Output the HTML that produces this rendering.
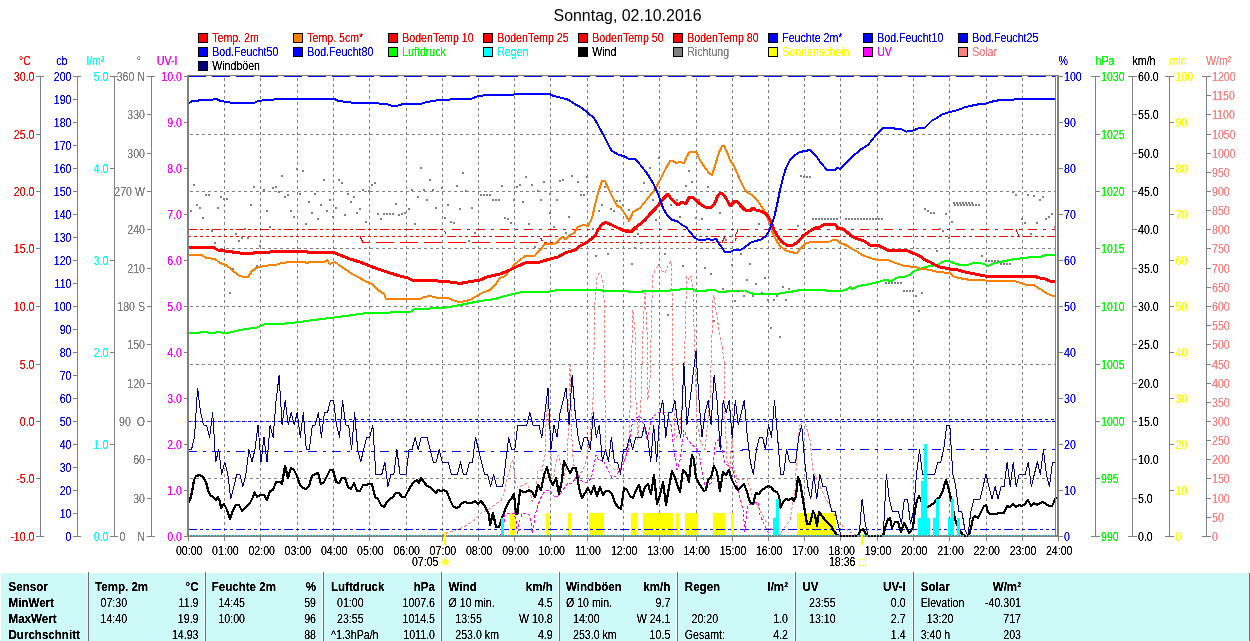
<!DOCTYPE html>
<html lang="de"><head><meta charset="utf-8"><title>Sonntag, 02.10.2016</title>
<style>
html,body{margin:0;padding:0;background:#fff;overflow:hidden}
svg{display:block}
text{font-family:"Liberation Sans",sans-serif;font-size:12px;filter:url(#crisp)}
</style></head><body>
<svg width="1250" height="641" viewBox="0 0 1250 641">
<defs><filter id="crisp" x="-5%" y="-20%" width="110%" height="140%" color-interpolation-filters="sRGB"><feComponentTransfer><feFuncA type="linear" slope="2.2" intercept="-0.35"/></feComponentTransfer></filter></defs>
<rect width="1250" height="641" fill="#fff"/>
<g id="grid" stroke="#808080" stroke-width="1" stroke-dasharray="3 3" shape-rendering="crispEdges" fill="none">
<line x1="224.5" y1="78" x2="224.5" y2="535"/>
<line x1="260.5" y1="78" x2="260.5" y2="535"/>
<line x1="297.5" y1="78" x2="297.5" y2="535"/>
<line x1="333.5" y1="78" x2="333.5" y2="535"/>
<line x1="369.5" y1="78" x2="369.5" y2="535"/>
<line x1="406.5" y1="78" x2="406.5" y2="535"/>
<line x1="442.5" y1="78" x2="442.5" y2="535"/>
<line x1="478.5" y1="78" x2="478.5" y2="535"/>
<line x1="514.5" y1="78" x2="514.5" y2="535"/>
<line x1="550.5" y1="78" x2="550.5" y2="535"/>
<line x1="587.5" y1="78" x2="587.5" y2="535"/>
<line x1="623.5" y1="78" x2="623.5" y2="535"/>
<line x1="659.5" y1="78" x2="659.5" y2="535"/>
<line x1="696.5" y1="78" x2="696.5" y2="535"/>
<line x1="732.5" y1="78" x2="732.5" y2="535"/>
<line x1="768.5" y1="78" x2="768.5" y2="535"/>
<line x1="804.5" y1="78" x2="804.5" y2="535"/>
<line x1="840.5" y1="78" x2="840.5" y2="535"/>
<line x1="877.5" y1="78" x2="877.5" y2="535"/>
<line x1="913.5" y1="78" x2="913.5" y2="535"/>
<line x1="949.5" y1="78" x2="949.5" y2="535"/>
<line x1="986.5" y1="78" x2="986.5" y2="535"/>
<line x1="1022.5" y1="78" x2="1022.5" y2="535"/>
<line x1="190" y1="134.5" x2="1055" y2="134.5"/>
<line x1="190" y1="191.5" x2="1055" y2="191.5"/>
<line x1="190" y1="248.5" x2="1055" y2="248.5"/>
<line x1="190" y1="306.5" x2="1055" y2="306.5"/>
<line x1="190" y1="364.5" x2="1055" y2="364.5"/>
<line x1="190" y1="421.5" x2="1055" y2="421.5"/>
<line x1="190" y1="478.5" x2="1055" y2="478.5"/>
</g>
<g id="sun" fill="#ffff00" shape-rendering="crispEdges">
<rect x="510" y="513" width="6" height="23"/>
<rect x="546" y="513" width="3" height="23"/>
<rect x="568" y="513" width="3" height="23"/>
<rect x="589" y="513" width="15" height="23"/>
<rect x="631" y="513" width="6" height="23"/>
<rect x="643" y="513" width="30" height="23"/>
<rect x="676" y="513" width="3" height="23"/>
<rect x="685" y="513" width="13" height="23"/>
<rect x="713" y="513" width="12" height="23"/>
<rect x="731" y="513" width="3" height="23"/>
<rect x="797" y="513" width="39" height="23"/>
</g>
<g id="curves" shape-rendering="crispEdges" stroke-linejoin="round">
<polyline points="188.0,229.5 444.0,229.5 447.0,236.5 1056.0,236.5" fill="none" stroke="#ff0000" stroke-width="1" stroke-dasharray="9 3 3 3 3 3" stroke-dashoffset="0"/>
<polyline points="188.0,236.5 446.0,236.5" fill="none" stroke="#ff0000" stroke-width="1" stroke-dasharray="3 3" stroke-dashoffset="0"/>
<polyline points="446.0,229.5 1056.0,229.5" fill="none" stroke="#ff0000" stroke-width="1" stroke-dasharray="9 6 3 6" stroke-dashoffset="18"/>
<polyline points="360.0,236.5 363.0,242.5 541.0,242.5" fill="none" stroke="#ff0000" stroke-width="1" stroke-dasharray="18 6" stroke-dashoffset="4"/>
<polyline points="540.0,236.5 543.0,242.5 734.0,242.5 737.0,236.5" fill="none" stroke="#ff0000" stroke-width="1" stroke-dasharray="3 3" stroke-dashoffset="4"/>
<polyline points="722.0,242.5 725.0,236.5" fill="none" stroke="#ff0000" stroke-width="1" />
<polyline points="735.0,236.5 738.0,229.5" fill="none" stroke="#ff0000" stroke-width="1" />
<polyline points="1016.0,229.5 1019.0,236.5" fill="none" stroke="#ff0000" stroke-width="1" />
<polyline points="188.0,76.5 1056.0,76.5" fill="none" stroke="#0000ff" stroke-width="1" stroke-dasharray="18 6" stroke-dashoffset="0"/>
<polyline points="188.0,421.5 1056.0,421.5" fill="none" stroke="#0000ff" stroke-width="1" stroke-dasharray="3 3" stroke-dashoffset="0"/>
<polyline points="319.0,419.5 1056.0,419.5" fill="none" stroke="#0000ff" stroke-width="1" stroke-dasharray="3 3" stroke-dashoffset="0"/>
<polyline points="188.0,451.5 738.0,451.5 744.0,449.5 1056.0,449.5" fill="none" stroke="#0000ff" stroke-width="1" stroke-dasharray="9 6 3 6" stroke-dashoffset="0"/>
<polyline points="188.0,529.5 1056.0,529.5" fill="none" stroke="#0000ff" stroke-width="1" stroke-dasharray="9 3 3 3 3 3" stroke-dashoffset="0"/>
<polyline points="441.0,536.0 444.5,533.6 455.0,530.6 465.5,526.0 474.5,520.0 480.5,513.4 489.4,509.0 495.4,504.4 501.4,500.0 504.4,492.4 507.4,477.5 510.4,467.0 512.7,459.5 514.0,470.0 515.7,483.4 518.0,488.0 522.4,485.0 527.0,483.4 530.0,491.0 532.0,501.4 533.6,500.0 536.0,489.4 538.0,471.5 542.0,470.0 545.0,455.0 546.0,425.0 547.5,405.0 549.0,425.0 551.0,455.0 551.6,476.0 554.0,476.0 556.0,462.5 558.4,455.0 560.0,462.5 561.4,470.0 563.6,479.0 567.4,462.5 568.0,440.0 569.0,400.0 570.0,365.0 571.0,400.0 572.0,440.0 572.6,455.0 574.0,465.5 578.0,474.5 582.4,471.5 585.4,462.5 588.4,449.0 590.0,440.0 593.0,400.0 595.0,300.0 597.0,278.0 599.0,273.0 601.0,275.0 603.0,282.0 604.0,300.0 605.0,400.0 606.0,450.0 610.0,465.0 615.0,470.0 620.0,468.0 625.0,460.0 629.0,440.0 631.0,380.0 633.0,310.0 635.0,330.0 636.0,400.0 638.0,440.0 641.0,400.0 643.0,330.0 645.0,293.0 647.0,330.0 648.0,400.0 650.0,380.0 652.0,300.0 653.0,275.0 656.0,268.0 659.0,265.0 662.0,271.0 665.0,273.0 668.0,266.0 671.0,261.0 672.0,290.0 673.0,380.0 675.0,440.0 680.0,430.0 684.0,380.0 686.0,300.0 687.0,276.0 689.0,280.0 691.0,276.0 693.0,290.0 695.0,360.0 697.0,420.0 700.0,440.0 705.0,450.0 710.0,400.0 713.0,300.0 714.0,295.0 716.0,310.0 719.0,330.0 722.0,345.0 724.0,360.0 725.0,420.0 727.0,460.0 730.0,470.0 732.0,432.0 734.0,470.0 738.0,480.0 747.0,478.5 752.0,495.0 757.0,505.0 765.0,520.0 772.0,530.0 780.0,535.0 783.0,529.5 790.0,520.0 795.0,490.0 797.0,450.0 800.0,425.0 804.6,421.0 810.0,440.0 813.0,470.0 817.0,480.0 825.0,497.0 832.0,510.0 838.0,522.0 845.0,528.0 850.0,532.0 858.0,536.0" fill="none" stroke="#ff8080" stroke-width="1" stroke-dasharray="3 2"/>
<polyline points="500.0,536.0 503.0,530.0 505.0,513.5 514.0,513.5 516.0,520.0 517.5,534.0 519.4,521.6 521.6,515.0 524.0,513.4 527.0,513.4 530.0,515.7 531.4,522.4 532.0,533.0 533.6,528.4 535.0,515.0 537.4,507.4 540.4,498.4 545.0,491.0 549.4,490.0 552.4,494.0 555.4,497.7 560.0,494.7 564.4,488.0 568.0,482.7 572.0,484.0 575.0,479.0 578.0,474.5 581.0,480.4 584.0,482.7 588.4,482.0 591.4,477.5 593.6,467.0 596.0,455.0 599.0,461.0 603.0,460.0 608.0,470.0 612.0,478.0 616.0,476.0 620.0,470.0 624.0,462.0 628.0,450.0 632.0,425.0 636.0,418.0 640.0,416.0 644.0,425.0 647.0,440.0 650.0,425.0 653.0,416.0 658.0,413.0 664.0,412.0 668.0,416.0 671.0,425.0 674.0,450.0 677.0,470.0 680.0,460.0 684.0,430.0 688.0,440.0 692.0,444.6 698.5,451.0 705.0,487.0 711.0,483.0 715.5,442.5 719.7,439.0 725.0,463.7 732.4,468.0 738.8,493.4 743.0,510.0 745.0,531.6 747.3,506.0 751.5,504.0 758.0,502.0 760.0,514.6 764.3,525.0 768.5,532.6 772.0,536.0" fill="none" stroke="#ff00ff" stroke-width="1" stroke-dasharray="3 2"/>
<polyline points="188.0,333.5 200.0,332.5 206.0,332.0 211.0,333.5 219.0,332.0 225.0,333.5 232.0,332.0 240.0,330.0 250.0,328.5 257.0,327.5 262.0,325.0 268.0,323.5 275.0,324.0 285.0,323.5 300.0,322.0 310.0,320.5 330.0,318.0 345.0,316.0 360.0,314.0 370.0,312.5 380.0,313.0 390.0,312.5 400.0,312.0 410.0,312.0 415.0,309.0 430.0,308.5 438.0,308.0 445.0,307.5 455.0,306.0 470.0,303.0 480.0,301.0 495.0,299.0 505.0,296.0 513.0,294.0 520.0,292.5 535.0,292.0 550.0,291.5 558.0,290.0 600.0,290.0 605.0,291.0 620.0,291.0 625.0,290.5 630.0,292.0 640.0,292.0 645.0,291.0 660.0,291.5 670.0,290.5 680.0,289.5 683.0,288.5 692.0,288.5 695.0,290.5 705.0,291.0 708.0,290.0 715.0,290.0 718.0,291.5 725.0,292.0 728.0,291.0 745.0,290.5 750.0,293.0 755.0,294.0 768.0,293.5 772.0,294.0 780.0,293.5 785.0,292.5 790.0,292.0 800.0,290.0 810.0,289.5 825.0,290.0 828.0,291.0 840.0,291.0 846.0,290.0 850.0,287.0 852.0,289.0 855.0,288.0 858.0,286.0 865.0,285.0 870.0,284.0 880.0,281.5 885.0,280.0 892.0,281.0 896.0,278.0 900.0,277.0 905.0,276.5 910.0,275.0 914.0,271.0 918.0,270.0 922.0,268.0 930.0,266.0 938.0,265.0 942.0,262.0 946.0,261.0 950.0,261.5 955.0,263.5 960.0,265.0 968.0,265.0 972.0,263.5 980.0,263.0 985.0,264.5 988.0,266.0 992.0,264.0 995.0,263.0 1005.0,261.0 1015.0,259.0 1025.0,258.0 1035.0,256.5 1040.0,257.0 1046.0,255.0 1056.0,255.0" fill="none" stroke="#00ff00" stroke-width="2" />
<polyline points="188.0,255.0 202.0,255.0 206.0,258.0 215.0,259.0 220.0,263.0 226.0,265.0 232.0,270.0 238.0,275.0 243.0,277.0 248.0,277.0 252.0,271.0 258.0,267.0 266.0,266.0 270.0,265.0 275.0,265.0 282.0,263.0 290.0,262.0 305.0,262.0 306.0,263.5 310.0,262.0 325.0,261.5 327.0,260.0 330.0,264.0 335.0,262.0 340.0,266.0 345.0,269.0 352.0,274.0 358.0,277.0 365.0,281.0 372.0,284.0 378.0,290.0 384.0,294.0 386.0,299.0 420.0,299.0 424.0,297.0 430.0,296.0 438.0,298.0 448.0,298.0 455.0,301.0 460.0,302.5 465.0,301.0 470.0,300.0 475.0,297.0 482.0,293.0 490.0,290.0 495.0,285.0 500.0,278.0 505.0,276.0 510.0,270.0 515.0,264.0 520.0,260.0 525.0,256.0 535.0,255.5 540.0,250.0 545.0,244.0 555.0,243.5 558.0,241.0 562.0,237.0 566.0,239.5 570.0,235.0 574.0,233.0 578.0,227.0 580.0,226.0 584.0,225.0 588.0,226.0 592.0,218.0 595.0,205.0 598.0,193.0 602.0,181.0 605.0,181.0 610.0,192.0 617.0,206.0 620.0,207.0 625.0,214.0 629.0,221.0 633.0,212.0 640.0,208.0 648.0,198.0 655.0,189.0 660.0,180.0 665.0,170.0 670.0,161.0 673.0,161.0 676.0,163.0 680.0,162.0 684.0,163.0 687.0,156.0 690.0,151.5 696.0,151.5 700.0,160.0 705.0,168.0 710.0,174.0 712.0,175.0 715.0,166.0 718.0,155.0 722.0,146.0 724.0,145.5 727.0,152.0 730.0,160.0 734.0,166.0 740.0,180.0 745.0,190.0 748.0,193.0 752.0,195.0 758.0,201.0 765.0,212.0 770.0,224.0 773.0,234.0 776.0,240.0 780.0,246.0 785.0,250.0 790.0,252.0 797.0,253.0 800.0,249.0 805.0,244.0 810.0,242.0 830.0,241.5 833.0,240.0 837.0,240.0 840.0,243.0 846.0,245.0 852.0,249.0 858.0,252.0 862.0,255.0 870.0,258.0 876.0,259.5 888.0,260.0 893.0,262.0 898.0,264.0 905.0,266.0 915.0,267.0 920.0,268.5 930.0,270.0 938.0,272.0 950.0,273.0 953.0,276.0 958.0,278.0 965.0,279.0 970.0,280.0 985.0,280.5 1015.0,281.0 1020.0,283.0 1025.0,284.5 1034.0,285.0 1038.0,288.0 1042.0,290.0 1046.0,293.0 1050.0,295.0 1056.0,296.5" fill="none" stroke="#ff8000" stroke-width="2" />
<polyline points="188.0,247.4 213.0,247.4 218.0,250.0 225.0,251.0 240.0,253.0 246.0,254.0 252.0,253.5 256.0,252.0 270.0,252.0 285.0,251.5 305.0,251.5 310.0,252.5 335.0,253.0 340.0,255.0 350.0,259.0 360.0,262.0 370.0,266.0 378.0,269.0 390.0,273.0 400.0,276.0 408.0,278.0 412.0,280.0 430.0,280.0 438.0,281.0 450.0,282.0 460.0,283.5 468.0,282.0 480.0,280.0 487.0,277.0 500.0,274.0 510.0,270.0 518.0,266.0 525.0,263.0 540.0,262.0 550.0,259.0 558.0,257.0 565.0,253.0 575.0,250.0 580.0,246.0 586.0,243.0 590.0,240.0 595.0,236.0 598.0,230.0 602.0,224.0 606.0,222.5 612.0,225.0 618.0,228.0 625.0,231.0 631.0,232.0 635.0,228.0 639.0,225.0 645.0,220.0 650.0,214.0 655.0,209.0 660.0,203.0 664.0,198.0 668.0,194.0 672.0,200.0 676.0,203.0 678.0,205.0 682.0,202.0 686.0,204.0 689.0,197.0 692.0,197.0 696.0,200.0 700.0,204.0 705.0,207.0 712.0,207.0 715.0,203.0 718.0,195.0 721.0,193.0 724.0,195.0 727.0,200.0 730.0,206.0 735.0,201.0 737.0,201.0 740.0,205.0 745.0,210.0 750.0,211.0 753.0,208.0 756.0,210.0 760.0,211.0 765.0,213.0 768.0,216.0 771.0,222.0 774.0,230.0 778.0,237.0 782.0,242.0 788.0,246.0 793.0,245.0 798.0,242.0 803.0,236.0 810.0,231.0 815.0,228.0 820.0,227.0 825.0,224.0 835.0,224.5 838.0,228.0 843.0,229.0 848.0,233.0 853.0,237.0 858.0,239.0 864.0,241.0 870.0,245.0 878.0,245.5 882.0,247.0 887.0,250.0 900.0,250.5 908.0,251.0 915.0,254.0 920.0,256.0 925.0,260.0 930.0,262.0 935.0,265.0 940.0,267.0 950.0,269.0 958.0,270.0 965.0,272.0 975.0,274.0 985.0,276.0 1000.0,276.5 1035.0,276.5 1040.0,278.0 1045.0,279.0 1050.0,281.0 1056.0,282.0" fill="none" stroke="#ff0000" stroke-width="3" />
<polyline points="188.0,104.0 192.0,101.0 200.0,100.4 212.0,99.6 217.0,99.0 220.0,101.0 228.0,102.0 232.0,103.0 254.0,103.0 258.0,101.0 266.0,100.0 276.0,99.4 280.0,99.0 335.0,99.0 338.0,101.0 344.0,101.6 352.0,102.6 378.0,103.0 380.0,104.0 388.0,104.4 392.0,106.0 396.0,106.0 402.0,104.4 406.0,103.6 422.0,103.6 426.0,102.0 434.0,101.0 438.0,100.0 448.0,99.6 472.0,98.6 478.0,96.0 488.0,95.0 514.0,94.6 516.0,94.0 550.0,94.0 552.0,95.4 558.0,97.0 568.0,99.6 574.0,103.6 582.0,108.0 588.0,113.0 594.0,118.0 598.0,125.0 604.0,136.0 610.0,148.0 612.0,151.0 618.0,154.4 626.0,157.0 628.0,158.6 635.0,159.0 638.0,162.0 646.0,172.0 650.0,178.0 654.0,185.0 658.0,194.0 660.0,199.0 663.0,208.0 667.0,215.0 672.0,220.0 677.0,221.0 682.0,225.0 686.0,227.0 690.0,232.0 695.0,238.0 700.0,240.5 704.0,240.0 708.0,239.0 712.0,240.0 716.0,239.0 720.0,245.0 725.0,252.0 730.0,252.0 734.0,250.0 740.0,250.0 744.0,248.0 750.0,243.0 755.0,241.0 760.0,240.0 765.0,237.0 768.0,233.0 771.0,226.0 774.0,218.0 777.0,205.0 780.0,190.0 783.0,178.0 786.0,168.0 790.0,160.0 795.0,155.0 800.0,152.0 805.0,151.0 810.0,150.0 816.0,156.0 821.0,163.0 827.0,170.0 835.0,170.4 837.0,168.0 840.4,169.0 852.0,157.0 860.0,150.0 868.0,145.0 876.0,135.0 883.0,127.6 892.0,127.6 896.0,129.0 902.0,129.4 906.0,131.6 912.0,131.0 918.0,128.4 925.0,127.6 932.0,120.5 936.0,118.4 943.0,114.0 950.0,112.0 958.0,110.0 964.0,107.6 970.0,106.0 978.0,104.4 986.0,103.6 992.0,101.6 1000.0,100.0 1014.0,99.6 1016.0,99.0 1056.0,99.0" fill="none" stroke="#0000ff" stroke-width="2" />
</g>
<g id="dir" fill="#808080" shape-rendering="crispEdges">
<rect x="193" y="184" width="2" height="2"/>
<rect x="205" y="194" width="2" height="2"/>
<rect x="208" y="194" width="2" height="2"/>
<rect x="220" y="196" width="2" height="2"/>
<rect x="223" y="198" width="2" height="2"/>
<rect x="226" y="198" width="2" height="2"/>
<rect x="253" y="186" width="2" height="2"/>
<rect x="263" y="189" width="2" height="2"/>
<rect x="272" y="187" width="2" height="2"/>
<rect x="275" y="186" width="2" height="2"/>
<rect x="278" y="191" width="2" height="2"/>
<rect x="281" y="175" width="2" height="2"/>
<rect x="284" y="196" width="2" height="2"/>
<rect x="287" y="194" width="2" height="2"/>
<rect x="296" y="168" width="2" height="2"/>
<rect x="299" y="193" width="2" height="2"/>
<rect x="302" y="170" width="2" height="2"/>
<rect x="308" y="201" width="2" height="2"/>
<rect x="314" y="193" width="2" height="2"/>
<rect x="323" y="179" width="2" height="2"/>
<rect x="329" y="199" width="2" height="2"/>
<rect x="338" y="179" width="2" height="2"/>
<rect x="341" y="182" width="2" height="2"/>
<rect x="347" y="193" width="2" height="2"/>
<rect x="350" y="201" width="2" height="2"/>
<rect x="353" y="196" width="2" height="2"/>
<rect x="362" y="189" width="2" height="2"/>
<rect x="368" y="190" width="2" height="2"/>
<rect x="371" y="184" width="2" height="2"/>
<rect x="374" y="182" width="2" height="2"/>
<rect x="395" y="203" width="2" height="2"/>
<rect x="411" y="189" width="2" height="2"/>
<rect x="417" y="196" width="2" height="2"/>
<rect x="420" y="167" width="2" height="2"/>
<rect x="423" y="189" width="2" height="2"/>
<rect x="426" y="199" width="2" height="2"/>
<rect x="429" y="179" width="2" height="2"/>
<rect x="432" y="189" width="2" height="2"/>
<rect x="190" y="210" width="2" height="2"/>
<rect x="196" y="204" width="2" height="2"/>
<rect x="199" y="207" width="2" height="2"/>
<rect x="202" y="217" width="2" height="2"/>
<rect x="211" y="230" width="2" height="2"/>
<rect x="214" y="242" width="2" height="2"/>
<rect x="217" y="207" width="2" height="2"/>
<rect x="229" y="292" width="2" height="2"/>
<rect x="232" y="268" width="2" height="2"/>
<rect x="235" y="233" width="2" height="2"/>
<rect x="238" y="240" width="2" height="2"/>
<rect x="241" y="237" width="2" height="2"/>
<rect x="244" y="228" width="2" height="2"/>
<rect x="247" y="237" width="2" height="2"/>
<rect x="250" y="204" width="2" height="2"/>
<rect x="256" y="265" width="2" height="2"/>
<rect x="259" y="245" width="2" height="2"/>
<rect x="266" y="210" width="2" height="2"/>
<rect x="269" y="226" width="2" height="2"/>
<rect x="290" y="210" width="2" height="2"/>
<rect x="293" y="216" width="2" height="2"/>
<rect x="305" y="223" width="2" height="2"/>
<rect x="311" y="212" width="2" height="2"/>
<rect x="317" y="218" width="2" height="2"/>
<rect x="320" y="204" width="2" height="2"/>
<rect x="326" y="210" width="2" height="2"/>
<rect x="332" y="216" width="2" height="2"/>
<rect x="335" y="207" width="2" height="2"/>
<rect x="344" y="214" width="2" height="2"/>
<rect x="356" y="212" width="2" height="2"/>
<rect x="359" y="208" width="2" height="2"/>
<rect x="365" y="221" width="2" height="2"/>
<rect x="377" y="213" width="2" height="2"/>
<rect x="380" y="218" width="2" height="2"/>
<rect x="383" y="213" width="2" height="2"/>
<rect x="386" y="213" width="2" height="2"/>
<rect x="389" y="213" width="2" height="2"/>
<rect x="392" y="213" width="2" height="2"/>
<rect x="398" y="214" width="2" height="2"/>
<rect x="401" y="213" width="2" height="2"/>
<rect x="404" y="212" width="2" height="2"/>
<rect x="408" y="208" width="2" height="2"/>
<rect x="414" y="223" width="2" height="2"/>
<rect x="435" y="207" width="2" height="2"/>
<rect x="441" y="187" width="2" height="2"/>
<rect x="456" y="185" width="2" height="2"/>
<rect x="462" y="172" width="2" height="2"/>
<rect x="465" y="190" width="2" height="2"/>
<rect x="480" y="194" width="2" height="2"/>
<rect x="483" y="194" width="2" height="2"/>
<rect x="486" y="194" width="2" height="2"/>
<rect x="489" y="194" width="2" height="2"/>
<rect x="492" y="199" width="2" height="2"/>
<rect x="495" y="199" width="2" height="2"/>
<rect x="498" y="199" width="2" height="2"/>
<rect x="501" y="185" width="2" height="2"/>
<rect x="513" y="199" width="2" height="2"/>
<rect x="516" y="186" width="2" height="2"/>
<rect x="519" y="184" width="2" height="2"/>
<rect x="522" y="201" width="2" height="2"/>
<rect x="525" y="176" width="2" height="2"/>
<rect x="531" y="184" width="2" height="2"/>
<rect x="537" y="190" width="2" height="2"/>
<rect x="540" y="199" width="2" height="2"/>
<rect x="543" y="181" width="2" height="2"/>
<rect x="549" y="193" width="2" height="2"/>
<rect x="556" y="199" width="2" height="2"/>
<rect x="559" y="180" width="2" height="2"/>
<rect x="562" y="179" width="2" height="2"/>
<rect x="571" y="175" width="2" height="2"/>
<rect x="577" y="181" width="2" height="2"/>
<rect x="580" y="194" width="2" height="2"/>
<rect x="583" y="194" width="2" height="2"/>
<rect x="586" y="176" width="2" height="2"/>
<rect x="604" y="186" width="2" height="2"/>
<rect x="616" y="200" width="2" height="2"/>
<rect x="619" y="200" width="2" height="2"/>
<rect x="643" y="182" width="2" height="2"/>
<rect x="649" y="167" width="2" height="2"/>
<rect x="652" y="199" width="2" height="2"/>
<rect x="658" y="157" width="2" height="2"/>
<rect x="685" y="185" width="2" height="2"/>
<rect x="676" y="199" width="2" height="2"/>
<rect x="447" y="204" width="2" height="2"/>
<rect x="459" y="208" width="2" height="2"/>
<rect x="471" y="207" width="2" height="2"/>
<rect x="444" y="217" width="2" height="2"/>
<rect x="450" y="221" width="2" height="2"/>
<rect x="453" y="222" width="2" height="2"/>
<rect x="474" y="232" width="2" height="2"/>
<rect x="468" y="240" width="2" height="2"/>
<rect x="504" y="217" width="2" height="2"/>
<rect x="507" y="218" width="2" height="2"/>
<rect x="510" y="222" width="2" height="2"/>
<rect x="528" y="223" width="2" height="2"/>
<rect x="534" y="246" width="2" height="2"/>
<rect x="549" y="212" width="2" height="2"/>
<rect x="553" y="226" width="2" height="2"/>
<rect x="565" y="232" width="2" height="2"/>
<rect x="568" y="216" width="2" height="2"/>
<rect x="569" y="234" width="2" height="2"/>
<rect x="592" y="228" width="2" height="2"/>
<rect x="598" y="210" width="2" height="2"/>
<rect x="601" y="204" width="2" height="2"/>
<rect x="595" y="255" width="2" height="2"/>
<rect x="607" y="253" width="2" height="2"/>
<rect x="610" y="208" width="2" height="2"/>
<rect x="613" y="210" width="2" height="2"/>
<rect x="622" y="204" width="2" height="2"/>
<rect x="628" y="209" width="2" height="2"/>
<rect x="631" y="263" width="2" height="2"/>
<rect x="634" y="247" width="2" height="2"/>
<rect x="637" y="233" width="2" height="2"/>
<rect x="640" y="242" width="2" height="2"/>
<rect x="655" y="219" width="2" height="2"/>
<rect x="664" y="253" width="2" height="2"/>
<rect x="667" y="314" width="2" height="2"/>
<rect x="670" y="204" width="2" height="2"/>
<rect x="679" y="216" width="2" height="2"/>
<rect x="682" y="265" width="2" height="2"/>
<rect x="688" y="170" width="2" height="2"/>
<rect x="691" y="181" width="2" height="2"/>
<rect x="695" y="217" width="2" height="2"/>
<rect x="698" y="199" width="2" height="2"/>
<rect x="701" y="218" width="2" height="2"/>
<rect x="707" y="186" width="2" height="2"/>
<rect x="719" y="212" width="2" height="2"/>
<rect x="725" y="239" width="2" height="2"/>
<rect x="740" y="253" width="2" height="2"/>
<rect x="758" y="223" width="2" height="2"/>
<rect x="797" y="225" width="2" height="2"/>
<rect x="800" y="175" width="2" height="2"/>
<rect x="803" y="176" width="2" height="2"/>
<rect x="806" y="176" width="2" height="2"/>
<rect x="809" y="176" width="2" height="2"/>
<rect x="658" y="264" width="2" height="2"/>
<rect x="704" y="267" width="2" height="2"/>
<rect x="710" y="273" width="2" height="2"/>
<rect x="713" y="320" width="2" height="2"/>
<rect x="722" y="288" width="2" height="2"/>
<rect x="731" y="264" width="2" height="2"/>
<rect x="734" y="300" width="2" height="2"/>
<rect x="737" y="290" width="2" height="2"/>
<rect x="743" y="295" width="2" height="2"/>
<rect x="746" y="279" width="2" height="2"/>
<rect x="749" y="263" width="2" height="2"/>
<rect x="752" y="295" width="2" height="2"/>
<rect x="755" y="283" width="2" height="2"/>
<rect x="761" y="292" width="2" height="2"/>
<rect x="764" y="277" width="2" height="2"/>
<rect x="767" y="299" width="2" height="2"/>
<rect x="770" y="327" width="2" height="2"/>
<rect x="773" y="299" width="2" height="2"/>
<rect x="776" y="295" width="2" height="2"/>
<rect x="779" y="336" width="2" height="2"/>
<rect x="782" y="286" width="2" height="2"/>
<rect x="785" y="299" width="2" height="2"/>
<rect x="788" y="288" width="2" height="2"/>
<rect x="924" y="208" width="2" height="2"/>
<rect x="927" y="210" width="2" height="2"/>
<rect x="930" y="212" width="2" height="2"/>
<rect x="933" y="212" width="2" height="2"/>
<rect x="939" y="228" width="2" height="2"/>
<rect x="942" y="230" width="2" height="2"/>
<rect x="945" y="213" width="2" height="2"/>
<rect x="948" y="237" width="2" height="2"/>
<rect x="951" y="221" width="2" height="2"/>
<rect x="936" y="250" width="2" height="2"/>
<rect x="981" y="255" width="2" height="2"/>
<rect x="915" y="295" width="2" height="2"/>
<rect x="921" y="292" width="2" height="2"/>
<rect x="918" y="310" width="2" height="2"/>
<rect x="1021" y="218" width="2" height="2"/>
<rect x="1024" y="222" width="2" height="2"/>
<rect x="1030" y="233" width="2" height="2"/>
<rect x="1036" y="222" width="2" height="2"/>
<rect x="1045" y="218" width="2" height="2"/>
<rect x="1048" y="216" width="2" height="2"/>
<rect x="1051" y="213" width="2" height="2"/>
<rect x="1054" y="226" width="2" height="2"/>
<rect x="1012" y="191" width="2" height="2"/>
<rect x="1015" y="194" width="2" height="2"/>
<rect x="1027" y="194" width="2" height="2"/>
<rect x="1033" y="195" width="2" height="2"/>
<rect x="1039" y="199" width="2" height="2"/>
<rect x="1042" y="196" width="2" height="2"/>
<rect x="812" y="218" width="2" height="2"/>
<rect x="815" y="218" width="2" height="2"/>
<rect x="818" y="218" width="2" height="2"/>
<rect x="821" y="218" width="2" height="2"/>
<rect x="824" y="218" width="2" height="2"/>
<rect x="827" y="218" width="2" height="2"/>
<rect x="830" y="218" width="2" height="2"/>
<rect x="833" y="218" width="2" height="2"/>
<rect x="836" y="218" width="2" height="2"/>
<rect x="845" y="218" width="2" height="2"/>
<rect x="848" y="218" width="2" height="2"/>
<rect x="851" y="218" width="2" height="2"/>
<rect x="854" y="218" width="2" height="2"/>
<rect x="857" y="218" width="2" height="2"/>
<rect x="860" y="218" width="2" height="2"/>
<rect x="863" y="218" width="2" height="2"/>
<rect x="866" y="218" width="2" height="2"/>
<rect x="869" y="218" width="2" height="2"/>
<rect x="872" y="218" width="2" height="2"/>
<rect x="875" y="218" width="2" height="2"/>
<rect x="878" y="218" width="2" height="2"/>
<rect x="881" y="218" width="2" height="2"/>
<rect x="954" y="204" width="2" height="2"/>
<rect x="957" y="204" width="2" height="2"/>
<rect x="960" y="204" width="2" height="2"/>
<rect x="963" y="204" width="2" height="2"/>
<rect x="966" y="204" width="2" height="2"/>
<rect x="969" y="204" width="2" height="2"/>
<rect x="972" y="204" width="2" height="2"/>
<rect x="975" y="204" width="2" height="2"/>
<rect x="978" y="204" width="2" height="2"/>
<rect x="953" y="202" width="2" height="2"/>
<rect x="956" y="202" width="2" height="2"/>
<rect x="959" y="202" width="2" height="2"/>
<rect x="962" y="202" width="2" height="2"/>
<rect x="965" y="202" width="2" height="2"/>
<rect x="968" y="202" width="2" height="2"/>
<rect x="971" y="202" width="2" height="2"/>
<rect x="985" y="260" width="2" height="2"/>
<rect x="988" y="260" width="2" height="2"/>
<rect x="991" y="260" width="2" height="2"/>
<rect x="994" y="260" width="2" height="2"/>
<rect x="997" y="260" width="2" height="2"/>
<rect x="1000" y="263" width="2" height="2"/>
<rect x="1003" y="263" width="2" height="2"/>
<rect x="1006" y="263" width="2" height="2"/>
<rect x="1009" y="263" width="2" height="2"/>
<rect x="885" y="282" width="2" height="2"/>
<rect x="888" y="282" width="2" height="2"/>
<rect x="891" y="282" width="2" height="2"/>
<rect x="894" y="282" width="2" height="2"/>
<rect x="897" y="282" width="2" height="2"/>
<rect x="900" y="282" width="2" height="2"/>
<rect x="903" y="290" width="2" height="2"/>
<rect x="906" y="290" width="2" height="2"/>
<rect x="909" y="290" width="2" height="2"/>
<rect x="912" y="290" width="2" height="2"/>
</g>
<g id="wind" shape-rendering="crispEdges" stroke-linejoin="round">
<polyline points="188.5,449.6 191.5,449.6 194.5,437.3 197.6,388.0 200.6,412.6 203.6,425.0 206.6,425.0 209.6,437.3 212.7,412.6 215.7,462.0 218.7,449.6 221.7,474.3 224.8,462.0 227.8,474.3 230.8,499.0 233.8,486.7 236.8,474.3 239.9,474.3 242.9,486.7 245.9,474.3 248.9,449.6 251.9,462.0 255.0,449.6 258.0,425.0 261.0,462.0 264.0,437.3 267.0,462.0 270.1,425.0 273.1,437.3 276.1,400.3 279.1,375.6 282.1,425.0 285.2,400.3 288.2,425.0 291.2,412.6 294.2,425.0 297.2,412.6 300.3,437.3 303.3,412.6 306.3,449.6 309.3,449.6 312.4,425.0 315.4,425.0 318.4,412.6 321.4,437.3 324.4,412.6 327.5,412.6 330.5,400.3 333.5,400.3 336.5,425.0 339.5,437.3 342.6,400.3 345.6,425.0 348.6,425.0 351.6,449.6 354.6,412.6 357.7,449.6 360.7,462.0 363.7,449.6 366.7,437.3 369.8,437.3 372.8,425.0 375.8,474.3 378.8,474.3 381.8,474.3 384.9,462.0 387.9,486.7 390.9,474.3 393.9,474.3 396.9,449.6 400.0,474.3 403.0,474.3 406.0,474.3 409.0,449.6 412.0,449.6 415.1,437.3 418.1,449.6 421.1,437.3 424.1,437.3 427.1,437.3 430.2,449.6 433.2,462.0 436.2,462.0 439.2,449.6 442.2,462.0 445.3,462.0 448.3,462.0 451.3,474.3 454.3,474.3 457.4,474.3 460.4,462.0 463.4,474.3 466.4,474.3 469.4,462.0 472.5,462.0 475.5,437.3 478.5,449.6 481.5,462.0 484.5,474.3 487.6,474.3 490.6,486.7 493.6,474.3 496.6,486.7 499.6,486.7 502.7,486.7 505.7,462.0 508.7,437.3 511.7,449.6 514.8,449.6 517.8,425.0 520.8,425.0 523.8,425.0 526.8,425.0 529.9,412.6 532.9,425.0 535.9,425.0 538.9,425.0 541.9,437.3 545.0,412.6 548.0,388.0 551.0,449.6 554.0,425.0 557.0,437.3 560.1,412.6 563.1,400.3 566.1,388.0 569.1,425.0 572.1,375.6 575.2,412.6 578.2,437.3 581.2,449.6 584.2,437.3 587.2,437.3 590.3,449.6 593.3,412.6 596.3,437.3 599.3,425.0 602.4,462.0 605.4,449.6 608.4,462.0 611.4,437.3 614.4,462.0 617.5,462.0 620.5,474.3 623.5,449.6 626.5,449.6 629.5,437.3 632.6,449.6 635.6,437.3 638.6,437.3 641.6,437.3 644.6,425.0 647.7,437.3 650.7,462.0 653.7,425.0 656.7,462.0 659.8,412.6 662.8,400.3 665.8,437.3 668.8,412.6 671.8,412.6 674.9,400.3 677.9,425.0 680.9,437.3 683.9,363.3 686.9,425.0 690.0,400.3 693.0,375.6 696.0,351.0 699.0,400.3 702.0,437.3 705.1,412.6 708.1,400.3 711.1,425.0 714.1,375.6 717.1,400.3 720.2,449.6 723.2,400.3 726.2,412.6 729.2,400.3 732.2,437.3 735.3,400.3 738.3,425.0 741.3,412.6 744.3,400.3 747.4,437.3 750.4,462.0 753.4,474.3 756.4,449.6 759.4,437.3 762.5,437.3 765.5,449.6 768.5,425.0 771.5,437.3 774.5,400.3 777.6,437.3 780.6,474.3 783.6,474.3 786.6,449.6 789.6,462.0 792.7,462.0 795.7,462.0 798.7,437.3 801.7,425.0 804.8,462.0 807.8,486.7 810.8,499.0 813.8,474.3 816.8,499.0 819.9,474.3 822.9,486.7 825.9,486.7 828.9,499.0 831.9,511.3 835.0,511.3 838.0,523.7 841.0,536.0 844.0,536.0 847.0,536.0 850.1,536.0 853.1,536.0 856.1,536.0 859.1,536.0 862.1,499.0 865.2,523.7 868.2,536.0 871.2,536.0 874.2,536.0 877.2,536.0 880.3,536.0 883.3,536.0 886.3,474.3 889.3,499.0 892.4,511.3 895.4,511.3 898.4,511.3 901.4,523.7 904.4,499.0 907.5,499.0 910.5,523.7 913.5,511.3 916.5,474.3 919.5,449.6 922.6,474.3 925.6,474.3 928.6,474.3 931.6,474.3 934.6,474.3 937.7,462.0 940.7,462.0 943.7,449.6 946.7,425.0 949.8,425.0 952.8,474.3 955.8,486.7 958.8,511.3 961.8,511.3 964.9,529.8 967.9,536.0 970.9,511.3 973.9,499.0 976.9,499.0 980.0,499.0 983.0,486.7 986.0,474.3 989.0,486.7 992.0,499.0 995.1,486.7 998.1,499.0 1001.1,486.7 1004.1,486.7 1007.1,462.0 1010.2,486.7 1013.2,462.0 1016.2,486.7 1019.2,474.3 1022.2,474.3 1025.3,474.3 1028.3,462.0 1031.3,486.7 1034.3,474.3 1037.4,462.0 1040.4,474.3 1043.4,449.6 1046.4,474.3 1049.4,486.7 1052.5,462.0 1055.5,462.0" fill="none" stroke="#000080" stroke-width="1" />
<polyline points="188.0,504.0 190.0,500.0 192.0,492.0 194.0,480.0 196.0,476.0 200.0,475.0 203.0,477.0 206.0,482.0 208.0,490.0 210.0,495.0 213.0,497.0 216.0,500.0 218.0,497.0 220.0,502.0 221.0,508.0 224.0,504.0 227.0,510.0 230.0,519.0 233.0,510.0 236.0,505.0 239.0,505.0 242.0,511.0 245.0,508.0 250.0,503.0 253.0,497.0 254.5,492.0 257.0,497.0 260.0,495.0 264.0,495.0 267.0,500.0 270.0,491.0 273.0,490.0 276.0,482.0 280.0,482.0 282.0,484.0 285.0,466.0 288.0,478.0 291.0,468.0 294.0,470.0 297.0,476.0 300.0,485.0 303.0,488.0 306.0,489.0 309.0,486.0 312.0,476.0 315.0,474.0 318.0,473.0 321.0,484.0 324.0,482.0 327.0,476.0 330.0,470.0 333.0,470.0 336.0,482.0 339.0,483.0 342.0,478.0 345.0,478.0 348.0,487.0 351.0,489.0 354.0,483.0 357.0,491.0 360.0,491.0 363.0,485.0 366.0,485.0 369.0,484.0 372.0,484.0 375.0,497.0 378.0,499.0 381.0,505.0 384.0,507.0 387.0,502.0 390.0,499.0 393.0,497.0 396.0,493.0 399.0,493.0 402.0,497.0 405.0,497.0 408.0,491.0 411.0,486.0 414.0,482.0 417.0,480.0 419.0,483.0 421.0,478.0 424.0,482.0 427.0,486.0 430.0,487.0 433.0,490.0 436.0,493.0 438.0,490.0 441.0,491.0 444.0,490.0 447.0,492.0 450.0,500.0 453.0,506.0 456.0,508.0 459.0,507.0 462.0,503.0 465.0,502.0 468.0,503.0 472.0,503.0 475.0,501.0 478.0,504.0 481.0,501.0 484.0,505.0 487.0,510.0 489.0,515.0 490.0,525.0 493.0,513.0 496.0,527.0 499.0,527.0 502.0,518.0 505.0,510.0 508.0,503.0 511.0,499.0 514.0,494.0 516.0,514.0 517.5,514.0 520.0,490.0 523.0,492.0 526.0,492.0 529.0,490.0 532.0,492.0 535.0,497.0 538.0,485.0 541.0,490.0 544.0,475.0 547.0,467.0 550.0,480.0 553.0,485.0 556.0,478.0 559.0,494.0 562.0,480.0 564.0,461.0 567.0,467.0 570.0,473.0 573.0,468.0 576.0,468.0 579.0,488.0 582.0,498.0 585.0,493.0 588.0,488.0 591.0,494.0 594.0,486.0 597.0,496.0 600.0,487.0 603.0,495.0 606.0,491.0 609.0,491.0 612.0,494.0 615.0,503.0 618.0,507.0 621.0,509.0 624.0,488.0 627.0,490.0 630.0,496.0 633.0,498.0 636.0,490.0 639.0,485.0 642.0,497.0 645.0,487.0 648.0,484.0 651.0,494.0 654.0,475.0 657.0,504.0 660.0,495.0 663.0,482.0 666.0,505.0 669.0,487.0 672.0,471.0 675.0,478.0 678.0,487.0 680.0,492.0 683.0,470.0 686.0,473.0 688.0,478.0 689.0,482.0 690.0,470.0 692.0,455.0 694.0,460.0 696.0,478.0 700.0,485.0 704.0,491.0 706.0,490.0 708.0,480.0 711.0,477.0 714.0,466.0 717.0,472.0 720.0,491.0 723.0,472.0 726.0,475.0 729.0,470.0 732.0,480.0 735.0,486.0 738.0,490.0 741.0,487.0 744.0,484.0 747.0,492.0 750.0,502.0 753.0,504.0 756.0,493.0 759.0,494.0 762.0,490.0 765.0,488.0 768.0,486.0 771.0,487.0 774.0,491.0 777.0,492.0 779.0,496.0 780.5,508.0 783.0,502.0 786.0,499.0 789.0,500.0 792.0,498.0 794.0,501.0 796.0,496.0 798.0,477.0 800.0,482.0 803.0,500.0 805.0,512.0 807.0,524.0 810.0,524.0 813.0,511.0 815.0,515.0 817.0,526.0 819.0,512.0 822.0,516.0 825.0,520.0 828.0,523.0 831.0,526.0 834.0,531.0 837.0,535.0 840.0,536.0 858.0,536.0 860.0,531.0 863.0,529.0 866.0,534.0 868.0,536.0 883.0,536.0 885.0,528.0 888.0,519.0 890.0,518.0 892.0,528.0 895.0,522.0 898.0,522.0 901.0,532.0 904.0,523.0 906.0,526.0 909.0,533.0 911.0,531.0 913.0,527.0 915.0,510.0 917.0,500.0 919.0,496.0 921.0,500.0 923.0,505.0 927.0,507.0 930.0,506.0 934.0,503.0 937.0,499.0 940.0,497.0 943.0,490.0 946.0,480.0 948.0,486.0 950.0,495.0 952.0,503.0 954.0,515.0 957.0,525.0 960.0,531.0 963.0,535.0 966.0,536.0 969.0,535.0 971.0,528.0 973.0,518.0 975.0,516.0 978.0,518.0 981.0,512.0 984.0,506.0 986.0,505.0 988.0,512.0 990.0,514.0 995.0,514.0 1000.0,513.0 1004.0,513.0 1007.0,506.0 1010.0,507.0 1013.0,504.0 1016.0,507.0 1019.0,505.0 1022.0,506.0 1025.0,504.0 1028.0,500.0 1031.0,506.0 1034.0,503.0 1037.0,505.0 1040.0,503.0 1043.0,502.0 1046.0,504.0 1049.0,506.0 1052.0,506.0 1054.0,502.0 1056.0,497.0" fill="none" stroke="#000000" stroke-width="2.2" />
</g>
<g id="rain" fill="#00ffff" shape-rendering="crispEdges">
<rect x="501" y="518" width="3" height="18"/>
<rect x="773" y="518" width="3" height="18"/>
<rect x="776" y="499" width="3" height="37"/>
<rect x="918" y="518" width="3" height="18"/>
<rect x="921" y="481" width="3" height="55"/>
<rect x="924" y="444" width="3" height="92"/>
<rect x="927" y="518" width="3" height="18"/>
<rect x="933" y="518" width="3" height="18"/>
<rect x="936" y="499" width="3" height="37"/>
<rect x="948" y="518" width="3" height="18"/>
<rect x="951" y="499" width="3" height="37"/>
<rect x="957" y="518" width="3" height="18"/>
</g>
<g id="axes" stroke="#808080" stroke-width="1" shape-rendering="crispEdges" fill="none">
<line x1="187" y1="75.5" x2="1059" y2="75.5"/>
<rect x="187" y="76" width="2" height="460" fill="#808080" stroke="none"/>
<line x1="1055.5" y1="76" x2="1055.5" y2="536"/>
<rect x="1057" y="76" width="2" height="461" fill="#808080" stroke="none"/>
<rect x="187" y="535" width="872" height="2" fill="#808080" stroke="none"/>
</g>
<line x1="189" y1="535.5" x2="1056" y2="535.5" stroke="#00ffff" stroke-width="1" stroke-dasharray="1 2" shape-rendering="crispEdges"/>
<g stroke="#000" stroke-width="2" shape-rendering="crispEdges">
<line x1="840" y1="535.5" x2="858" y2="535.5" stroke-dasharray="2 1"/>
<line x1="868" y1="535.5" x2="883" y2="535.5" stroke-dasharray="2 1"/>
<line x1="964" y1="535.5" x2="968" y2="535.5" stroke-dasharray="2 1"/>
</g>
<g id="ticks" stroke="#808080" stroke-width="1" shape-rendering="crispEdges" fill="none">
<line x1="188.5" y1="537" x2="188.5" y2="541"/>
<line x1="224.5" y1="537" x2="224.5" y2="541"/>
<line x1="260.5" y1="537" x2="260.5" y2="541"/>
<line x1="297.5" y1="537" x2="297.5" y2="541"/>
<line x1="333.5" y1="537" x2="333.5" y2="541"/>
<line x1="369.5" y1="537" x2="369.5" y2="541"/>
<line x1="406.5" y1="537" x2="406.5" y2="541"/>
<line x1="442.5" y1="537" x2="442.5" y2="541"/>
<line x1="478.5" y1="537" x2="478.5" y2="541"/>
<line x1="514.5" y1="537" x2="514.5" y2="541"/>
<line x1="550.5" y1="537" x2="550.5" y2="541"/>
<line x1="587.5" y1="537" x2="587.5" y2="541"/>
<line x1="623.5" y1="537" x2="623.5" y2="541"/>
<line x1="659.5" y1="537" x2="659.5" y2="541"/>
<line x1="696.5" y1="537" x2="696.5" y2="541"/>
<line x1="732.5" y1="537" x2="732.5" y2="541"/>
<line x1="768.5" y1="537" x2="768.5" y2="541"/>
<line x1="804.5" y1="537" x2="804.5" y2="541"/>
<line x1="840.5" y1="537" x2="840.5" y2="541"/>
<line x1="877.5" y1="537" x2="877.5" y2="541"/>
<line x1="913.5" y1="537" x2="913.5" y2="541"/>
<line x1="949.5" y1="537" x2="949.5" y2="541"/>
<line x1="986.5" y1="537" x2="986.5" y2="541"/>
<line x1="1022.5" y1="537" x2="1022.5" y2="541"/>
<line x1="1058.5" y1="537" x2="1058.5" y2="541"/>
<line x1="40.5" y1="76" x2="40.5" y2="537"/>
<line x1="36.0" y1="76.5" x2="44.0" y2="76.5"/>
<line x1="40.5" y1="134.5" x2="36.0" y2="134.5"/>
<line x1="40.5" y1="191.5" x2="36.0" y2="191.5"/>
<line x1="40.5" y1="248.5" x2="36.0" y2="248.5"/>
<line x1="40.5" y1="306.5" x2="36.0" y2="306.5"/>
<line x1="40.5" y1="364.5" x2="36.0" y2="364.5"/>
<line x1="40.5" y1="421.5" x2="36.0" y2="421.5"/>
<line x1="40.5" y1="478.5" x2="36.0" y2="478.5"/>
<line x1="36.0" y1="536.5" x2="44.0" y2="536.5"/>
<line x1="77.5" y1="76" x2="77.5" y2="537"/>
<line x1="73.0" y1="76.5" x2="81.0" y2="76.5"/>
<line x1="77.5" y1="99.5" x2="73.0" y2="99.5"/>
<line x1="77.5" y1="122.5" x2="73.0" y2="122.5"/>
<line x1="77.5" y1="145.5" x2="73.0" y2="145.5"/>
<line x1="77.5" y1="168.5" x2="73.0" y2="168.5"/>
<line x1="77.5" y1="191.5" x2="73.0" y2="191.5"/>
<line x1="77.5" y1="214.5" x2="73.0" y2="214.5"/>
<line x1="77.5" y1="237.5" x2="73.0" y2="237.5"/>
<line x1="77.5" y1="260.5" x2="73.0" y2="260.5"/>
<line x1="77.5" y1="283.5" x2="73.0" y2="283.5"/>
<line x1="77.5" y1="306.5" x2="73.0" y2="306.5"/>
<line x1="77.5" y1="329.5" x2="73.0" y2="329.5"/>
<line x1="77.5" y1="352.5" x2="73.0" y2="352.5"/>
<line x1="77.5" y1="375.5" x2="73.0" y2="375.5"/>
<line x1="77.5" y1="398.5" x2="73.0" y2="398.5"/>
<line x1="77.5" y1="421.5" x2="73.0" y2="421.5"/>
<line x1="77.5" y1="444.5" x2="73.0" y2="444.5"/>
<line x1="77.5" y1="467.5" x2="73.0" y2="467.5"/>
<line x1="77.5" y1="490.5" x2="73.0" y2="490.5"/>
<line x1="77.5" y1="513.5" x2="73.0" y2="513.5"/>
<line x1="73.0" y1="536.5" x2="81.0" y2="536.5"/>
<line x1="114.5" y1="76" x2="114.5" y2="537"/>
<line x1="110.0" y1="76.5" x2="118.0" y2="76.5"/>
<line x1="114.5" y1="168.5" x2="110.0" y2="168.5"/>
<line x1="114.5" y1="260.5" x2="110.0" y2="260.5"/>
<line x1="114.5" y1="352.5" x2="110.0" y2="352.5"/>
<line x1="114.5" y1="444.5" x2="110.0" y2="444.5"/>
<line x1="110.0" y1="536.5" x2="118.0" y2="536.5"/>
<line x1="151.5" y1="76" x2="151.5" y2="537"/>
<line x1="147.0" y1="76.5" x2="155.0" y2="76.5"/>
<line x1="151.5" y1="114.5" x2="147.0" y2="114.5"/>
<line x1="151.5" y1="153.5" x2="147.0" y2="153.5"/>
<line x1="151.5" y1="191.5" x2="147.0" y2="191.5"/>
<line x1="151.5" y1="229.5" x2="147.0" y2="229.5"/>
<line x1="151.5" y1="268.5" x2="147.0" y2="268.5"/>
<line x1="151.5" y1="306.5" x2="147.0" y2="306.5"/>
<line x1="151.5" y1="344.5" x2="147.0" y2="344.5"/>
<line x1="151.5" y1="383.5" x2="147.0" y2="383.5"/>
<line x1="151.5" y1="421.5" x2="147.0" y2="421.5"/>
<line x1="151.5" y1="459.5" x2="147.0" y2="459.5"/>
<line x1="151.5" y1="498.5" x2="147.0" y2="498.5"/>
<line x1="147.0" y1="536.5" x2="155.0" y2="536.5"/>
<line x1="184" y1="76.5" x2="188" y2="76.5"/>
<line x1="184" y1="122.5" x2="188" y2="122.5"/>
<line x1="184" y1="168.5" x2="188" y2="168.5"/>
<line x1="184" y1="214.5" x2="188" y2="214.5"/>
<line x1="184" y1="260.5" x2="188" y2="260.5"/>
<line x1="184" y1="306.5" x2="188" y2="306.5"/>
<line x1="184" y1="352.5" x2="188" y2="352.5"/>
<line x1="184" y1="398.5" x2="188" y2="398.5"/>
<line x1="184" y1="444.5" x2="188" y2="444.5"/>
<line x1="184" y1="490.5" x2="188" y2="490.5"/>
<line x1="184" y1="536.5" x2="188" y2="536.5"/>
<line x1="1059" y1="76.5" x2="1063" y2="76.5"/>
<line x1="1059" y1="122.5" x2="1063" y2="122.5"/>
<line x1="1059" y1="168.5" x2="1063" y2="168.5"/>
<line x1="1059" y1="214.5" x2="1063" y2="214.5"/>
<line x1="1059" y1="260.5" x2="1063" y2="260.5"/>
<line x1="1059" y1="306.5" x2="1063" y2="306.5"/>
<line x1="1059" y1="352.5" x2="1063" y2="352.5"/>
<line x1="1059" y1="398.5" x2="1063" y2="398.5"/>
<line x1="1059" y1="444.5" x2="1063" y2="444.5"/>
<line x1="1059" y1="490.5" x2="1063" y2="490.5"/>
<line x1="1059" y1="536.5" x2="1063" y2="536.5"/>
<line x1="1095.5" y1="76" x2="1095.5" y2="537"/>
<line x1="1091.0" y1="76.5" x2="1100.0" y2="76.5"/>
<line x1="1095.5" y1="134.5" x2="1100.0" y2="134.5"/>
<line x1="1095.5" y1="191.5" x2="1100.0" y2="191.5"/>
<line x1="1095.5" y1="248.5" x2="1100.0" y2="248.5"/>
<line x1="1095.5" y1="306.5" x2="1100.0" y2="306.5"/>
<line x1="1095.5" y1="364.5" x2="1100.0" y2="364.5"/>
<line x1="1095.5" y1="421.5" x2="1100.0" y2="421.5"/>
<line x1="1095.5" y1="478.5" x2="1100.0" y2="478.5"/>
<line x1="1091.0" y1="536.5" x2="1100.0" y2="536.5"/>
<line x1="1132.5" y1="76" x2="1132.5" y2="537"/>
<line x1="1128.0" y1="76.5" x2="1137.0" y2="76.5"/>
<line x1="1132.5" y1="114.5" x2="1137.0" y2="114.5"/>
<line x1="1132.5" y1="153.5" x2="1137.0" y2="153.5"/>
<line x1="1132.5" y1="191.5" x2="1137.0" y2="191.5"/>
<line x1="1132.5" y1="229.5" x2="1137.0" y2="229.5"/>
<line x1="1132.5" y1="268.5" x2="1137.0" y2="268.5"/>
<line x1="1132.5" y1="306.5" x2="1137.0" y2="306.5"/>
<line x1="1132.5" y1="344.5" x2="1137.0" y2="344.5"/>
<line x1="1132.5" y1="383.5" x2="1137.0" y2="383.5"/>
<line x1="1132.5" y1="421.5" x2="1137.0" y2="421.5"/>
<line x1="1132.5" y1="459.5" x2="1137.0" y2="459.5"/>
<line x1="1132.5" y1="498.5" x2="1137.0" y2="498.5"/>
<line x1="1128.0" y1="536.5" x2="1137.0" y2="536.5"/>
<line x1="1169.5" y1="76" x2="1169.5" y2="537"/>
<line x1="1165.0" y1="76.5" x2="1174.0" y2="76.5"/>
<line x1="1169.5" y1="122.5" x2="1174.0" y2="122.5"/>
<line x1="1169.5" y1="168.5" x2="1174.0" y2="168.5"/>
<line x1="1169.5" y1="214.5" x2="1174.0" y2="214.5"/>
<line x1="1169.5" y1="260.5" x2="1174.0" y2="260.5"/>
<line x1="1169.5" y1="306.5" x2="1174.0" y2="306.5"/>
<line x1="1169.5" y1="352.5" x2="1174.0" y2="352.5"/>
<line x1="1169.5" y1="398.5" x2="1174.0" y2="398.5"/>
<line x1="1169.5" y1="444.5" x2="1174.0" y2="444.5"/>
<line x1="1169.5" y1="490.5" x2="1174.0" y2="490.5"/>
<line x1="1165.0" y1="536.5" x2="1174.0" y2="536.5"/>
<line x1="1206.5" y1="76" x2="1206.5" y2="537"/>
<line x1="1202.0" y1="76.5" x2="1211.0" y2="76.5"/>
<line x1="1206.5" y1="95.5" x2="1211.0" y2="95.5"/>
<line x1="1206.5" y1="114.5" x2="1211.0" y2="114.5"/>
<line x1="1206.5" y1="134.5" x2="1211.0" y2="134.5"/>
<line x1="1206.5" y1="153.5" x2="1211.0" y2="153.5"/>
<line x1="1206.5" y1="172.5" x2="1211.0" y2="172.5"/>
<line x1="1206.5" y1="191.5" x2="1211.0" y2="191.5"/>
<line x1="1206.5" y1="210.5" x2="1211.0" y2="210.5"/>
<line x1="1206.5" y1="229.5" x2="1211.0" y2="229.5"/>
<line x1="1206.5" y1="248.5" x2="1211.0" y2="248.5"/>
<line x1="1206.5" y1="268.5" x2="1211.0" y2="268.5"/>
<line x1="1206.5" y1="287.5" x2="1211.0" y2="287.5"/>
<line x1="1206.5" y1="306.5" x2="1211.0" y2="306.5"/>
<line x1="1206.5" y1="325.5" x2="1211.0" y2="325.5"/>
<line x1="1206.5" y1="344.5" x2="1211.0" y2="344.5"/>
<line x1="1206.5" y1="364.5" x2="1211.0" y2="364.5"/>
<line x1="1206.5" y1="383.5" x2="1211.0" y2="383.5"/>
<line x1="1206.5" y1="402.5" x2="1211.0" y2="402.5"/>
<line x1="1206.5" y1="421.5" x2="1211.0" y2="421.5"/>
<line x1="1206.5" y1="440.5" x2="1211.0" y2="440.5"/>
<line x1="1206.5" y1="459.5" x2="1211.0" y2="459.5"/>
<line x1="1206.5" y1="478.5" x2="1211.0" y2="478.5"/>
<line x1="1206.5" y1="498.5" x2="1211.0" y2="498.5"/>
<line x1="1206.5" y1="517.5" x2="1211.0" y2="517.5"/>
<line x1="1202.0" y1="536.5" x2="1211.0" y2="536.5"/>
</g>
<g fill="#ff0000" text-anchor="end">
<text transform="translate(34.5 81.0) scale(0.885 1)" text-anchor="end">30.0</text>
<text transform="translate(34.5 139.0) scale(0.885 1)" text-anchor="end">25.0</text>
<text transform="translate(34.5 196.0) scale(0.885 1)" text-anchor="end">20.0</text>
<text transform="translate(34.5 253.0) scale(0.885 1)" text-anchor="end">15.0</text>
<text transform="translate(34.5 311.0) scale(0.885 1)" text-anchor="end">10.0</text>
<text transform="translate(34.5 369.0) scale(0.885 1)" text-anchor="end">5.0</text>
<text transform="translate(34.5 426.0) scale(0.885 1)" text-anchor="end">0.0</text>
<text transform="translate(34.5 483.0) scale(0.885 1)" text-anchor="end">-5.0</text>
<text transform="translate(34.5 541.0) scale(0.885 1)" text-anchor="end">-10.0</text>
</g>
<g fill="#0000ff" text-anchor="end">
<text transform="translate(71.5 81.0) scale(0.885 1)" text-anchor="end">200</text>
<text transform="translate(71.5 104.0) scale(0.885 1)" text-anchor="end">190</text>
<text transform="translate(71.5 127.0) scale(0.885 1)" text-anchor="end">180</text>
<text transform="translate(71.5 150.0) scale(0.885 1)" text-anchor="end">170</text>
<text transform="translate(71.5 173.0) scale(0.885 1)" text-anchor="end">160</text>
<text transform="translate(71.5 196.0) scale(0.885 1)" text-anchor="end">150</text>
<text transform="translate(71.5 219.0) scale(0.885 1)" text-anchor="end">140</text>
<text transform="translate(71.5 242.0) scale(0.885 1)" text-anchor="end">130</text>
<text transform="translate(71.5 265.0) scale(0.885 1)" text-anchor="end">120</text>
<text transform="translate(71.5 288.0) scale(0.885 1)" text-anchor="end">110</text>
<text transform="translate(71.5 311.0) scale(0.885 1)" text-anchor="end">100</text>
<text transform="translate(71.5 334.0) scale(0.885 1)" text-anchor="end">90</text>
<text transform="translate(71.5 357.0) scale(0.885 1)" text-anchor="end">80</text>
<text transform="translate(71.5 380.0) scale(0.885 1)" text-anchor="end">70</text>
<text transform="translate(71.5 403.0) scale(0.885 1)" text-anchor="end">60</text>
<text transform="translate(71.5 426.0) scale(0.885 1)" text-anchor="end">50</text>
<text transform="translate(71.5 449.0) scale(0.885 1)" text-anchor="end">40</text>
<text transform="translate(71.5 472.0) scale(0.885 1)" text-anchor="end">30</text>
<text transform="translate(71.5 495.0) scale(0.885 1)" text-anchor="end">20</text>
<text transform="translate(71.5 518.0) scale(0.885 1)" text-anchor="end">10</text>
<text transform="translate(71.5 541.0) scale(0.885 1)" text-anchor="end">0</text>
</g>
<g fill="#00ffff" text-anchor="end">
<text transform="translate(108.5 81.0) scale(0.885 1)" text-anchor="end">5.0</text>
<text transform="translate(108.5 173.0) scale(0.885 1)" text-anchor="end">4.0</text>
<text transform="translate(108.5 265.0) scale(0.885 1)" text-anchor="end">3.0</text>
<text transform="translate(108.5 357.0) scale(0.885 1)" text-anchor="end">2.0</text>
<text transform="translate(108.5 449.0) scale(0.885 1)" text-anchor="end">1.0</text>
<text transform="translate(108.5 541.0) scale(0.885 1)" text-anchor="end">0.0</text>
</g>
<g fill="#808080" text-anchor="end">
<text transform="translate(145.0 81.0) scale(0.885 1)" text-anchor="end">360 N</text>
<text transform="translate(145.0 119.0) scale(0.885 1)" text-anchor="end">330</text>
<text transform="translate(145.0 158.0) scale(0.885 1)" text-anchor="end">300</text>
<text transform="translate(145.0 196.0) scale(0.885 1)" text-anchor="end">270 W</text>
<text transform="translate(145.0 234.0) scale(0.885 1)" text-anchor="end">240</text>
<text transform="translate(145.0 273.0) scale(0.885 1)" text-anchor="end">210</text>
<text transform="translate(145.0 311.0) scale(0.885 1)" text-anchor="end">180 S</text>
<text transform="translate(145.0 349.0) scale(0.885 1)" text-anchor="end">150</text>
<text transform="translate(145.0 388.0) scale(0.885 1)" text-anchor="end">120</text>
<text transform="translate(145.0 426.0) scale(0.885 1)" text-anchor="end">90 &#160;O</text>
<text transform="translate(145.0 464.0) scale(0.885 1)" text-anchor="end">60</text>
<text transform="translate(145.0 503.0) scale(0.885 1)" text-anchor="end">30</text>
<text transform="translate(145.0 541.0) scale(0.885 1)" text-anchor="end">0 &#160;&#160;&#160;N</text>
</g>
<g fill="#ff00ff" text-anchor="end">
<text transform="translate(182.0 81.0) scale(0.885 1)" text-anchor="end">10.0</text>
<text transform="translate(182.0 127.0) scale(0.885 1)" text-anchor="end">9.0</text>
<text transform="translate(182.0 173.0) scale(0.885 1)" text-anchor="end">8.0</text>
<text transform="translate(182.0 219.0) scale(0.885 1)" text-anchor="end">7.0</text>
<text transform="translate(182.0 265.0) scale(0.885 1)" text-anchor="end">6.0</text>
<text transform="translate(182.0 311.0) scale(0.885 1)" text-anchor="end">5.0</text>
<text transform="translate(182.0 357.0) scale(0.885 1)" text-anchor="end">4.0</text>
<text transform="translate(182.0 403.0) scale(0.885 1)" text-anchor="end">3.0</text>
<text transform="translate(182.0 449.0) scale(0.885 1)" text-anchor="end">2.0</text>
<text transform="translate(182.0 495.0) scale(0.885 1)" text-anchor="end">1.0</text>
<text transform="translate(182.0 541.0) scale(0.885 1)" text-anchor="end">0.0</text>
</g>
<g fill="#0000ff" text-anchor="start">
<text transform="translate(1064.0 81.0) scale(0.885 1)">100</text>
<text transform="translate(1064.0 127.0) scale(0.885 1)">90</text>
<text transform="translate(1064.0 173.0) scale(0.885 1)">80</text>
<text transform="translate(1064.0 219.0) scale(0.885 1)">70</text>
<text transform="translate(1064.0 265.0) scale(0.885 1)">60</text>
<text transform="translate(1064.0 311.0) scale(0.885 1)">50</text>
<text transform="translate(1064.0 357.0) scale(0.885 1)">40</text>
<text transform="translate(1064.0 403.0) scale(0.885 1)">30</text>
<text transform="translate(1064.0 449.0) scale(0.885 1)">20</text>
<text transform="translate(1064.0 495.0) scale(0.885 1)">10</text>
<text transform="translate(1064.0 541.0) scale(0.885 1)">0</text>
</g>
<g fill="#00ff00" text-anchor="start">
<text transform="translate(1101.0 81.0) scale(0.885 1)">1030</text>
<text transform="translate(1101.0 139.0) scale(0.885 1)">1025</text>
<text transform="translate(1101.0 196.0) scale(0.885 1)">1020</text>
<text transform="translate(1101.0 253.0) scale(0.885 1)">1015</text>
<text transform="translate(1101.0 311.0) scale(0.885 1)">1010</text>
<text transform="translate(1101.0 369.0) scale(0.885 1)">1005</text>
<text transform="translate(1101.0 426.0) scale(0.885 1)">1000</text>
<text transform="translate(1101.0 483.0) scale(0.885 1)">995</text>
<text transform="translate(1101.0 541.0) scale(0.885 1)">990</text>
</g>
<g fill="#000000" text-anchor="start">
<text transform="translate(1138.0 81.0) scale(0.885 1)">60.0</text>
<text transform="translate(1138.0 119.0) scale(0.885 1)">55.0</text>
<text transform="translate(1138.0 158.0) scale(0.885 1)">50.0</text>
<text transform="translate(1138.0 196.0) scale(0.885 1)">45.0</text>
<text transform="translate(1138.0 234.0) scale(0.885 1)">40.0</text>
<text transform="translate(1138.0 273.0) scale(0.885 1)">35.0</text>
<text transform="translate(1138.0 311.0) scale(0.885 1)">30.0</text>
<text transform="translate(1138.0 349.0) scale(0.885 1)">25.0</text>
<text transform="translate(1138.0 388.0) scale(0.885 1)">20.0</text>
<text transform="translate(1138.0 426.0) scale(0.885 1)">15.0</text>
<text transform="translate(1138.0 464.0) scale(0.885 1)">10.0</text>
<text transform="translate(1138.0 503.0) scale(0.885 1)">5.0</text>
<text transform="translate(1138.0 541.0) scale(0.885 1)">0.0</text>
</g>
<g fill="#ffff00" text-anchor="start">
<text transform="translate(1175.5 81.0) scale(0.885 1)">100</text>
<text transform="translate(1175.5 127.0) scale(0.885 1)">90</text>
<text transform="translate(1175.5 173.0) scale(0.885 1)">80</text>
<text transform="translate(1175.5 219.0) scale(0.885 1)">70</text>
<text transform="translate(1175.5 265.0) scale(0.885 1)">60</text>
<text transform="translate(1175.5 311.0) scale(0.885 1)">50</text>
<text transform="translate(1175.5 357.0) scale(0.885 1)">40</text>
<text transform="translate(1175.5 403.0) scale(0.885 1)">30</text>
<text transform="translate(1175.5 449.0) scale(0.885 1)">20</text>
<text transform="translate(1175.5 495.0) scale(0.885 1)">10</text>
<text transform="translate(1175.5 541.0) scale(0.885 1)">0</text>
</g>
<g fill="#ff8080" text-anchor="start">
<text transform="translate(1212.0 81.0) scale(0.885 1)">1200</text>
<text transform="translate(1212.0 100.0) scale(0.885 1)">1150</text>
<text transform="translate(1212.0 119.0) scale(0.885 1)">1100</text>
<text transform="translate(1212.0 139.0) scale(0.885 1)">1050</text>
<text transform="translate(1212.0 158.0) scale(0.885 1)">1000</text>
<text transform="translate(1212.0 177.0) scale(0.885 1)">950</text>
<text transform="translate(1212.0 196.0) scale(0.885 1)">900</text>
<text transform="translate(1212.0 215.0) scale(0.885 1)">850</text>
<text transform="translate(1212.0 234.0) scale(0.885 1)">800</text>
<text transform="translate(1212.0 253.0) scale(0.885 1)">750</text>
<text transform="translate(1212.0 273.0) scale(0.885 1)">700</text>
<text transform="translate(1212.0 292.0) scale(0.885 1)">650</text>
<text transform="translate(1212.0 311.0) scale(0.885 1)">600</text>
<text transform="translate(1212.0 330.0) scale(0.885 1)">550</text>
<text transform="translate(1212.0 349.0) scale(0.885 1)">500</text>
<text transform="translate(1212.0 369.0) scale(0.885 1)">450</text>
<text transform="translate(1212.0 388.0) scale(0.885 1)">400</text>
<text transform="translate(1212.0 407.0) scale(0.885 1)">350</text>
<text transform="translate(1212.0 426.0) scale(0.885 1)">300</text>
<text transform="translate(1212.0 445.0) scale(0.885 1)">250</text>
<text transform="translate(1212.0 464.0) scale(0.885 1)">200</text>
<text transform="translate(1212.0 483.0) scale(0.885 1)">150</text>
<text transform="translate(1212.0 503.0) scale(0.885 1)">100</text>
<text transform="translate(1212.0 522.0) scale(0.885 1)">50</text>
<text transform="translate(1212.0 541.0) scale(0.885 1)">0</text>
</g>
<g>
<text transform="translate(31.0 64.5) scale(0.885 1)" text-anchor="end" fill="#ff0000">&#176;C</text>
<text transform="translate(67.5 64.5) scale(0.885 1)" text-anchor="end" fill="#0000ff">cb</text>
<text transform="translate(104.5 64.5) scale(0.885 1)" text-anchor="end" fill="#00ffff">l/m&#178;</text>
<text transform="translate(141.0 64.5) scale(0.885 1)" text-anchor="end" fill="#808080">&#176;</text>
<text transform="translate(177.5 64.5) scale(0.885 1)" text-anchor="end" fill="#ff00ff">UV-I</text>
<text transform="translate(1058.5 64.5) scale(0.885 1)" fill="#0000ff">%</text>
<text transform="translate(1095.5 64.5) scale(0.885 1)" fill="#00ff00">hPa</text>
<text transform="translate(1132.5 64.5) scale(0.885 1)" fill="#000000">km/h</text>
<text transform="translate(1169.5 64.5) scale(0.885 1)" fill="#ffff00">min</text>
<text transform="translate(1206.0 64.5) scale(0.885 1)" fill="#ff8080">W/m&#178;</text>
</g>
<g fill="#000" text-anchor="middle">
<text transform="translate(189.2 554.5) scale(0.885 1)" text-anchor="middle">00:00</text>
<text transform="translate(225.4 554.5) scale(0.885 1)" text-anchor="middle">01:00</text>
<text transform="translate(261.7 554.5) scale(0.885 1)" text-anchor="middle">02:00</text>
<text transform="translate(297.9 554.5) scale(0.885 1)" text-anchor="middle">03:00</text>
<text transform="translate(334.2 554.5) scale(0.885 1)" text-anchor="middle">04:00</text>
<text transform="translate(370.4 554.5) scale(0.885 1)" text-anchor="middle">05:00</text>
<text transform="translate(406.7 554.5) scale(0.885 1)" text-anchor="middle">06:00</text>
<text transform="translate(442.9 554.5) scale(0.885 1)" text-anchor="middle">07:00</text>
<text transform="translate(479.2 554.5) scale(0.885 1)" text-anchor="middle">08:00</text>
<text transform="translate(515.5 554.5) scale(0.885 1)" text-anchor="middle">09:00</text>
<text transform="translate(551.7 554.5) scale(0.885 1)" text-anchor="middle">10:00</text>
<text transform="translate(588.0 554.5) scale(0.885 1)" text-anchor="middle">11:00</text>
<text transform="translate(624.2 554.5) scale(0.885 1)" text-anchor="middle">12:00</text>
<text transform="translate(660.5 554.5) scale(0.885 1)" text-anchor="middle">13:00</text>
<text transform="translate(696.7 554.5) scale(0.885 1)" text-anchor="middle">14:00</text>
<text transform="translate(733.0 554.5) scale(0.885 1)" text-anchor="middle">15:00</text>
<text transform="translate(769.2 554.5) scale(0.885 1)" text-anchor="middle">16:00</text>
<text transform="translate(805.5 554.5) scale(0.885 1)" text-anchor="middle">17:00</text>
<text transform="translate(841.7 554.5) scale(0.885 1)" text-anchor="middle">18:00</text>
<text transform="translate(878.0 554.5) scale(0.885 1)" text-anchor="middle">19:00</text>
<text transform="translate(914.2 554.5) scale(0.885 1)" text-anchor="middle">20:00</text>
<text transform="translate(950.5 554.5) scale(0.885 1)" text-anchor="middle">21:00</text>
<text transform="translate(986.7 554.5) scale(0.885 1)" text-anchor="middle">22:00</text>
<text transform="translate(1023.0 554.5) scale(0.885 1)" text-anchor="middle">23:00</text>
<text transform="translate(1059.2 554.5) scale(0.885 1)" text-anchor="middle">24:00</text>
</g>
<rect x="444" y="532" width="2" height="13" fill="#ffff00" shape-rendering="crispEdges"/>
<rect x="861" y="534" width="2" height="11" fill="#ffff00" shape-rendering="crispEdges"/>
<text transform="translate(438.5 565.5) scale(0.885 1)" text-anchor="end">07:05</text>
<text transform="translate(855.5 565.5) scale(0.885 1)" text-anchor="end">18:36</text>
<g stroke="#ffff40" stroke-width="1" fill="none"><circle cx="445.5" cy="562" r="3" fill="#ffff00" stroke="none"/><path d="M445.5 556v12M439.5 562h12M441.2 557.7l8.6 8.6M449.8 557.7l-8.6 8.6" opacity=".7"/></g>
<rect x="859.5" y="559.5" width="6" height="6" fill="none" stroke="#ffff40" stroke-width="1.2" shape-rendering="crispEdges"/>
<text x="627.5" y="20.8" style="font-size:16.6px;filter:none" text-anchor="middle" textLength="148" lengthAdjust="spacingAndGlyphs">Sonntag, 02.10.2016</text>
<g id="legend">
<rect x="198.5" y="33.5" width="9" height="9" fill="#ff0000" stroke="#000" stroke-width="1" shape-rendering="crispEdges"/>
<text transform="translate(212.2 42.0) scale(0.885 1)" fill="#ff0000">Temp. 2m</text>
<rect x="293.5" y="33.5" width="9" height="9" fill="#ff8000" stroke="#000" stroke-width="1" shape-rendering="crispEdges"/>
<text transform="translate(307.2 42.0) scale(0.885 1)" fill="#ff0000">Temp. 5cm*</text>
<rect x="388.5" y="33.5" width="9" height="9" fill="#ff0000" stroke="#000" stroke-width="1" shape-rendering="crispEdges"/>
<text transform="translate(402.2 42.0) scale(0.885 1)" fill="#ff0000">BodenTemp 10</text>
<rect x="483.5" y="33.5" width="9" height="9" fill="#ff0000" stroke="#000" stroke-width="1" shape-rendering="crispEdges"/>
<text transform="translate(497.2 42.0) scale(0.885 1)" fill="#ff0000">BodenTemp 25</text>
<rect x="578.5" y="33.5" width="9" height="9" fill="#ff0000" stroke="#000" stroke-width="1" shape-rendering="crispEdges"/>
<text transform="translate(592.2 42.0) scale(0.885 1)" fill="#ff0000">BodenTemp 50</text>
<rect x="673.5" y="33.5" width="9" height="9" fill="#ff0000" stroke="#000" stroke-width="1" shape-rendering="crispEdges"/>
<text transform="translate(687.2 42.0) scale(0.885 1)" fill="#ff0000">BodenTemp 80</text>
<rect x="768.5" y="33.5" width="9" height="9" fill="#0000ff" stroke="#000" stroke-width="1" shape-rendering="crispEdges"/>
<text transform="translate(782.2 42.0) scale(0.885 1)" fill="#0000ff">Feuchte 2m*</text>
<rect x="863.5" y="33.5" width="9" height="9" fill="#0000ff" stroke="#000" stroke-width="1" shape-rendering="crispEdges"/>
<text transform="translate(877.2 42.0) scale(0.885 1)" fill="#0000ff">Bod.Feucht10</text>
<rect x="958.5" y="33.5" width="9" height="9" fill="#0000ff" stroke="#000" stroke-width="1" shape-rendering="crispEdges"/>
<text transform="translate(972.2 42.0) scale(0.885 1)" fill="#0000ff">Bod.Feucht25</text>
<rect x="198.5" y="47.5" width="9" height="9" fill="#0000ff" stroke="#000" stroke-width="1" shape-rendering="crispEdges"/>
<text transform="translate(212.2 56.0) scale(0.885 1)" fill="#0000ff">Bod.Feucht50</text>
<rect x="293.5" y="47.5" width="9" height="9" fill="#0000ff" stroke="#000" stroke-width="1" shape-rendering="crispEdges"/>
<text transform="translate(307.2 56.0) scale(0.885 1)" fill="#0000ff">Bod.Feucht80</text>
<rect x="388.5" y="47.5" width="9" height="9" fill="#00ff00" stroke="#000" stroke-width="1" shape-rendering="crispEdges"/>
<text transform="translate(402.2 56.0) scale(0.885 1)" fill="#00ff00">Luftdruck</text>
<rect x="483.5" y="47.5" width="9" height="9" fill="#00ffff" stroke="#000" stroke-width="1" shape-rendering="crispEdges"/>
<text transform="translate(497.2 56.0) scale(0.885 1)" fill="#00ffff">Regen</text>
<rect x="578.5" y="47.5" width="9" height="9" fill="#000000" stroke="#000" stroke-width="1" shape-rendering="crispEdges"/>
<text transform="translate(592.2 56.0) scale(0.885 1)" fill="#000000">Wind</text>
<rect x="673.5" y="47.5" width="9" height="9" fill="#808080" stroke="#000" stroke-width="1" shape-rendering="crispEdges"/>
<text transform="translate(687.2 56.0) scale(0.885 1)" fill="#808080">Richtung</text>
<rect x="768.5" y="47.5" width="9" height="9" fill="#ffff00" stroke="#000" stroke-width="1" shape-rendering="crispEdges"/>
<text transform="translate(782.2 56.0) scale(0.885 1)" fill="#ffff00">Sonnenschein</text>
<rect x="863.5" y="47.5" width="9" height="9" fill="#ff00ff" stroke="#000" stroke-width="1" shape-rendering="crispEdges"/>
<text transform="translate(877.2 56.0) scale(0.885 1)" fill="#ff00ff">UV</text>
<rect x="958.5" y="47.5" width="9" height="9" fill="#ff8080" stroke="#000" stroke-width="1" shape-rendering="crispEdges"/>
<text transform="translate(972.2 56.0) scale(0.885 1)" fill="#ff8080">Solar</text>
<rect x="198.5" y="61.5" width="9" height="9" fill="#000080" stroke="#000" stroke-width="1" shape-rendering="crispEdges"/>
<text transform="translate(212.2 70.0) scale(0.885 1)" fill="#000000">Windb&#246;en</text>
</g>
<rect x="1" y="573" width="1249" height="68" fill="#cdfaf8"/>
<g fill="#707070" shape-rendering="crispEdges">
<rect x="87" y="573" width="1" height="68" fill="#f4ffff"/>
<rect x="88" y="572" width="1" height="69"/>
<rect x="204" y="573" width="1" height="68" fill="#f4ffff"/>
<rect x="205" y="572" width="1" height="69"/>
<rect x="322" y="573" width="1" height="68" fill="#f4ffff"/>
<rect x="323" y="572" width="1" height="69"/>
<rect x="440" y="573" width="1" height="68" fill="#f4ffff"/>
<rect x="441" y="572" width="1" height="69"/>
<rect x="558" y="573" width="1" height="68" fill="#f4ffff"/>
<rect x="559" y="572" width="1" height="69"/>
<rect x="676" y="573" width="1" height="68" fill="#f4ffff"/>
<rect x="677" y="572" width="1" height="69"/>
<rect x="794" y="573" width="1" height="68" fill="#f4ffff"/>
<rect x="795" y="572" width="1" height="69"/>
<rect x="912" y="573" width="1" height="68" fill="#f4ffff"/>
<rect x="913" y="572" width="1" height="69"/>
<rect x="1249" y="573" width="1" height="68" fill="#707070"/>
</g>
<g id="table" fill="#000">
<text transform="translate(8.5 591.0) scale(0.965 1)" font-weight="bold">Sensor</text>
<text transform="translate(8.5 607.0) scale(0.965 1)" font-weight="bold">MinWert</text>
<text transform="translate(8.5 623.0) scale(0.965 1)" font-weight="bold">MaxWert</text>
<text transform="translate(8.5 639.0) scale(0.965 1)" font-weight="bold">Durchschnitt</text>
<text transform="translate(95.0 591.0) scale(0.965 1)" font-weight="bold">Temp. 2m</text>
<text transform="translate(198.5 591.0) scale(0.965 1)" text-anchor="end" font-weight="bold">&#176;C</text>
<text transform="translate(100.5 607.0) scale(0.885 1)">07:30</text>
<text transform="translate(198.5 607.0) scale(0.885 1)" text-anchor="end">11.9</text>
<text transform="translate(100.5 623.0) scale(0.885 1)">14:40</text>
<text transform="translate(198.5 623.0) scale(0.885 1)" text-anchor="end">19.9</text>
<text transform="translate(198.5 639.0) scale(0.885 1)" text-anchor="end">14.93</text>
<text transform="translate(211.7 591.0) scale(0.965 1)" font-weight="bold">Feuchte 2m</text>
<text transform="translate(316.0 591.0) scale(0.965 1)" text-anchor="end" font-weight="bold">%</text>
<text transform="translate(218.4 607.0) scale(0.885 1)">14:45</text>
<text transform="translate(316.0 607.0) scale(0.885 1)" text-anchor="end">59</text>
<text transform="translate(218.4 623.0) scale(0.885 1)">10:00</text>
<text transform="translate(316.0 623.0) scale(0.885 1)" text-anchor="end">96</text>
<text transform="translate(316.0 639.0) scale(0.885 1)" text-anchor="end">88</text>
<text transform="translate(331.0 591.0) scale(0.965 1)" font-weight="bold">Luftdruck</text>
<text transform="translate(435.0 591.0) scale(0.965 1)" text-anchor="end" font-weight="bold">hPa</text>
<text transform="translate(337.0 607.0) scale(0.885 1)">01:00</text>
<text transform="translate(435.0 607.0) scale(0.885 1)" text-anchor="end">1007.6</text>
<text transform="translate(337.0 623.0) scale(0.885 1)">23:55</text>
<text transform="translate(435.0 623.0) scale(0.885 1)" text-anchor="end">1014.5</text>
<text transform="translate(331.0 639.0) scale(0.885 1)">^1.3hPa/h</text>
<text transform="translate(435.0 639.0) scale(0.885 1)" text-anchor="end">1011.0</text>
<text transform="translate(448.6 591.0) scale(0.965 1)" font-weight="bold">Wind</text>
<text transform="translate(552.7 591.0) scale(0.965 1)" text-anchor="end" font-weight="bold">km/h</text>
<text transform="translate(448.6 607.0) scale(0.885 1)">&#216; 10 min.</text>
<text transform="translate(552.7 607.0) scale(0.885 1)" text-anchor="end">4.5</text>
<text transform="translate(455.3 623.0) scale(0.885 1)">13:55</text>
<text transform="translate(552.7 623.0) scale(0.885 1)" text-anchor="end">W 10.8</text>
<text transform="translate(455.3 639.0) scale(0.885 1)">253.0 km</text>
<text transform="translate(552.7 639.0) scale(0.885 1)" text-anchor="end">4.9</text>
<text transform="translate(566.0 591.0) scale(0.965 1)" font-weight="bold">Windb&#246;en</text>
<text transform="translate(670.3 591.0) scale(0.965 1)" text-anchor="end" font-weight="bold">km/h</text>
<text transform="translate(566.0 607.0) scale(0.885 1)">&#216; 10 min.</text>
<text transform="translate(670.3 607.0) scale(0.885 1)" text-anchor="end">9.7</text>
<text transform="translate(573.0 623.0) scale(0.885 1)">14:00</text>
<text transform="translate(670.3 623.0) scale(0.885 1)" text-anchor="end">W 24.1</text>
<text transform="translate(573.0 639.0) scale(0.885 1)">253.0 km</text>
<text transform="translate(670.3 639.0) scale(0.885 1)" text-anchor="end">10.5</text>
<text transform="translate(684.8 591.0) scale(0.965 1)" font-weight="bold">Regen</text>
<text transform="translate(788.0 591.0) scale(0.965 1)" text-anchor="end" font-weight="bold">l/m&#178;</text>
<text transform="translate(691.5 623.0) scale(0.885 1)">20:20</text>
<text transform="translate(788.0 623.0) scale(0.885 1)" text-anchor="end">1.0</text>
<text transform="translate(684.8 639.0) scale(0.885 1)">Gesamt:</text>
<text transform="translate(788.0 639.0) scale(0.885 1)" text-anchor="end">4.2</text>
<text transform="translate(802.4 591.0) scale(0.965 1)" font-weight="bold">UV</text>
<text transform="translate(905.6 591.0) scale(0.965 1)" text-anchor="end" font-weight="bold">UV-I</text>
<text transform="translate(809.0 607.0) scale(0.885 1)">23:55</text>
<text transform="translate(905.6 607.0) scale(0.885 1)" text-anchor="end">0.0</text>
<text transform="translate(809.0 623.0) scale(0.885 1)">13:10</text>
<text transform="translate(905.6 623.0) scale(0.885 1)" text-anchor="end">2.7</text>
<text transform="translate(905.6 639.0) scale(0.885 1)" text-anchor="end">1.4</text>
<text transform="translate(920.7 591.0) scale(0.965 1)" font-weight="bold">Solar</text>
<text transform="translate(1021.0 591.0) scale(0.965 1)" text-anchor="end" font-weight="bold">W/m&#178;</text>
<text transform="translate(920.7 607.0) scale(0.885 1)">Elevation</text>
<text transform="translate(1021.0 607.0) scale(0.885 1)" text-anchor="end">-40.301</text>
<text transform="translate(926.8 623.0) scale(0.885 1)">13:20</text>
<text transform="translate(1021.0 623.0) scale(0.885 1)" text-anchor="end">717</text>
<text transform="translate(920.7 639.0) scale(0.885 1)">3:40 h</text>
<text transform="translate(1021.0 639.0) scale(0.885 1)" text-anchor="end">203</text>
</g>
</svg>
</body></html>
